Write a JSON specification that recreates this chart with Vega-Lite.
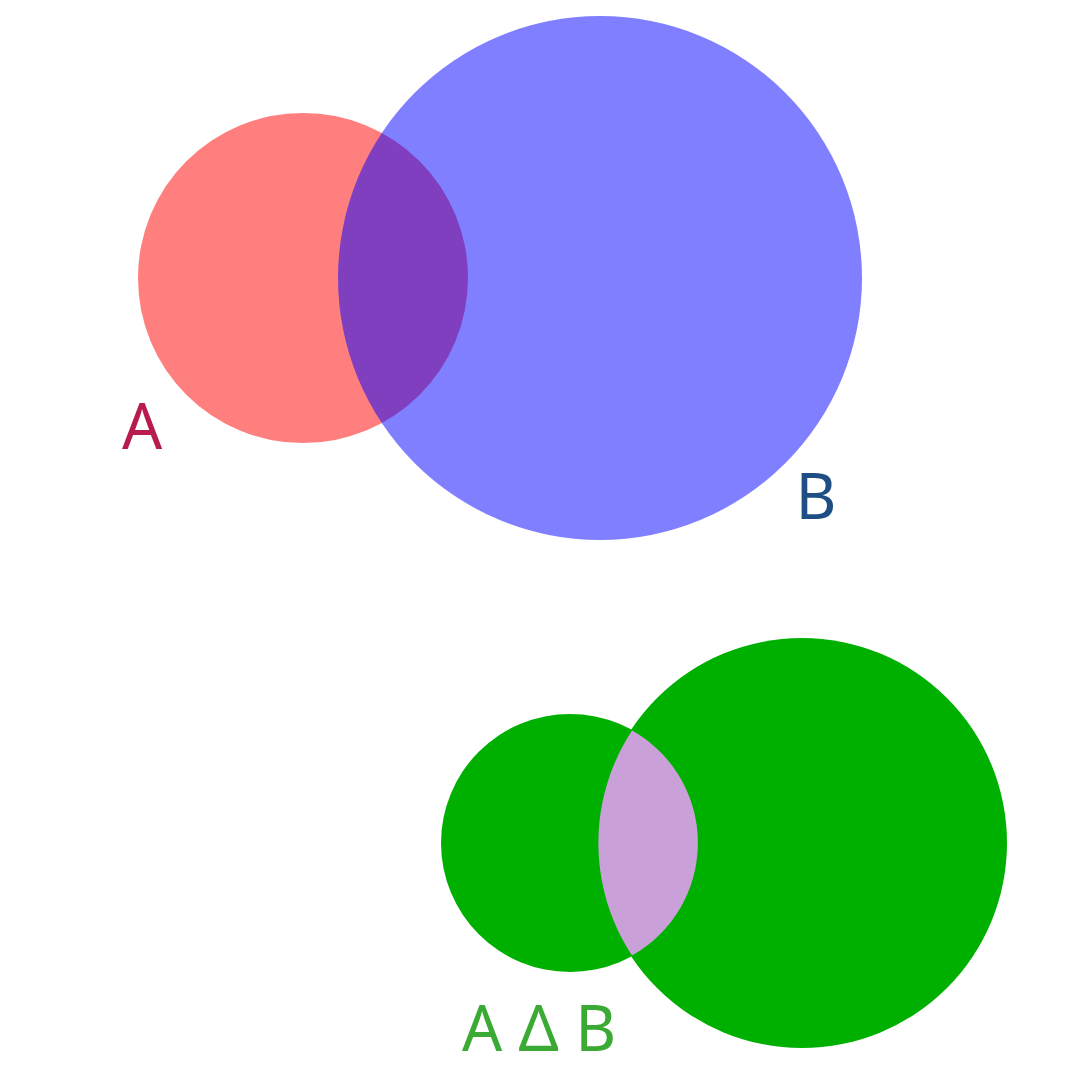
{
  "$schema": "https://vega.github.io/schema/vega-lite/v6.json",
  "description": "Venn diagram of sets A and B, and below it their symmetric difference A Δ B.",
  "width": 1080,
  "height": 1080,
  "autosize": {"type": "fit", "contains": "padding"},
  "padding": 0,
  "background": "white",
  "config": {"view": {"stroke": null}},
  "datasets": {
    "circles": [
      {"diagram": "sets", "set": "A", "x": 303, "y": 278, "r": 165},
      {"diagram": "sets", "set": "B", "x": 600, "y": 278, "r": 262},
      {"diagram": "difference", "set": "A", "x": 570, "y": 843, "r": 129},
      {"diagram": "difference", "set": "B", "x": 802, "y": 843, "r": 205}
    ],
    "lens": [
      {"part": "A ∩ B", "x": 632, "y": 843}
    ],
    "labels": [
      {"text": "A", "x": 142, "y": 449},
      {"text": "B", "x": 816, "y": 519},
      {"text": "A Δ B", "x": 539, "y": 1051}
    ]
  },
  "encoding": {
    "x": {"field": "x", "type": "quantitative", "scale": {"domain": [0, 1080]}, "axis": null},
    "y": {"field": "y", "type": "quantitative", "scale": {"domain": [0, 1080], "reverse": true}, "axis": null}
  },
  "layer": [
    {
      "data": {"name": "circles"},
      "transform": [{"filter": "datum.diagram == 'sets'"}],
      "mark": {"type": "point", "shape": "circle", "filled": true, "opacity": 0.5, "strokeWidth": 0},
      "encoding": {
        "size": {"field": "r", "type": "quantitative", "scale": {"type": "pow", "exponent": 2, "domain": [0, 100], "range": [0, 40000]}, "legend": null},
        "color": {"field": "set", "type": "nominal", "scale": {"domain": ["A", "B"], "range": ["#ff0000", "#0000ff"]}, "legend": null}
      }
    },
    {
      "data": {"name": "circles"},
      "transform": [{"filter": "datum.diagram == 'difference'"}],
      "mark": {"type": "point", "shape": "circle", "filled": true, "opacity": 1, "strokeWidth": 0, "color": "#00b000"},
      "encoding": {
        "size": {"field": "r", "type": "quantitative", "scale": {"type": "pow", "exponent": 2, "domain": [0, 100], "range": [0, 40000]}, "legend": null}
      }
    },
    {
      "data": {"name": "lens"},
      "mark": {
        "type": "point",
        "filled": true,
        "opacity": 1,
        "strokeWidth": 0,
        "size": 4,
        "color": "#c9a1d8",
        "shape": "M0,-112.5 A205,205 0 0,0 0,112.5 A129,129 0 0,0 0,-112.5 Z"
      }
    },
    {
      "data": {"name": "labels"},
      "mark": {"type": "text", "font": "Noto Sans", "fontSize": 63, "align": "center", "baseline": "alphabetic"},
      "encoding": {
        "text": {"field": "text", "type": "nominal"},
        "color": {"field": "text", "type": "nominal", "scale": {"domain": ["A", "B", "A Δ B"], "range": ["#b71c4c", "#1f4e84", "#3aaa35"]}, "legend": null}
      }
    }
  ],
  "resolve": {"scale": {"color": "independent"}}
}
